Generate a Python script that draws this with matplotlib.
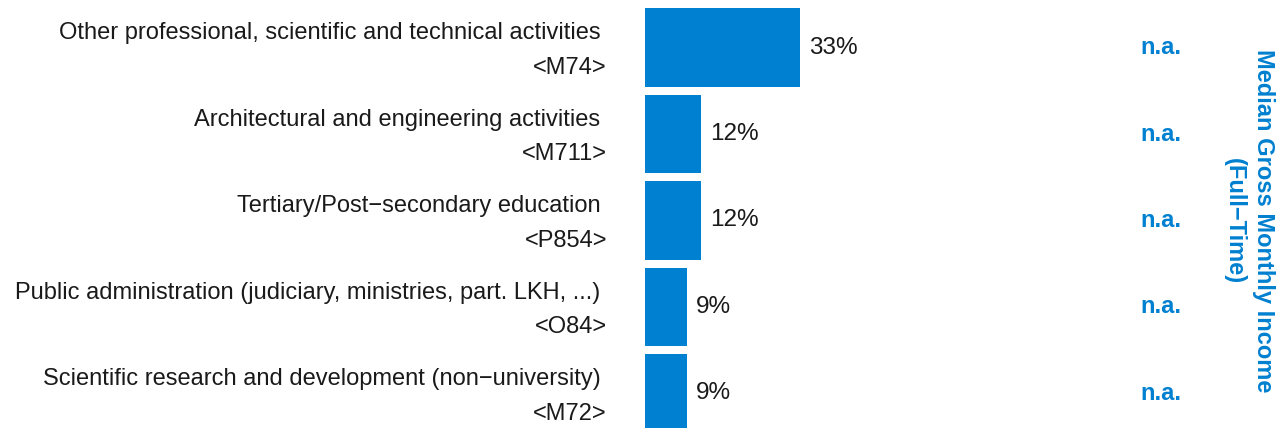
import matplotlib
matplotlib.use("Agg")
import matplotlib.pyplot as plt

plt.rcParams['font.family'] = ['Liberation Sans', 'DejaVu Sans']

categories = [
    "Other professional, scientific and technical activities",
    "Architectural and engineering activities",
    "Tertiary/Post\u2212secondary education",
    "Public administration (judiciary, ministries, part. LKH, ...)",
    "Scientific research and development (non\u2212university)",
]
codes = ["<M74>", "<M711>", "<P854>", "<O84>", "<M72>"]
shares = [33, 12, 12, 9, 9]
income = ["n.a.", "n.a.", "n.a.", "n.a.", "n.a."]
right_title = "Median Gross Monthly Income\n(Full\u2212Time)"

BLUE = "#0080D0"

fig = plt.figure(figsize=(12.84, 4.28), dpi=100)
W, H = 1284, 428
ax = fig.add_axes([645 / W, 0, 470 / W, 1])
ypos = list(range(len(categories)))
ax.barh(ypos, shares, height=0.91, color=BLUE)
ax.set_xlim(0, 100)
ax.set_ylim(4.40, -0.55)
ax.axis('off')

for y, cat, code, v, inc in zip(ypos, categories, codes, shares, income):
    ax.annotate(cat + " \n" + code, xy=(0, y), xytext=(-38, -3), textcoords='offset pixels',
                ha='right', va='center', multialignment='right', fontsize=17,
                color='#1a1a1a', linespacing=1.72, annotation_clip=False)
    ax.annotate(f"{v}%", xy=(v, y), xytext=(9, 0), textcoords='offset pixels',
                ha='left', va='center', fontsize=17.5, color='#1a1a1a', annotation_clip=False)
    ax.annotate(inc, xy=(0, y), xytext=(1161 - 645, 0), textcoords='offset pixels',
                ha='center', va='center', fontsize=17, fontweight='bold', color=BLUE,
                annotation_clip=False)

fig.text(1249 / W, 1 - 221 / H, right_title, rotation=-90, ha='center', va='center',
         multialignment='center', fontsize=17, fontweight='bold', color=BLUE, linespacing=1.3)

fig.savefig("out.png", dpi=100)
